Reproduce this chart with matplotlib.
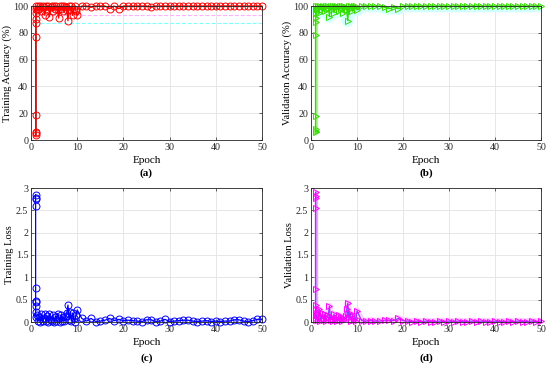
import numpy as np
import matplotlib.pyplot as plt

# ---- data ----
# first epoch: several iterations stacked at epoch 1
ep_first = [1, 1, 1, 1, 1, 1, 1, 1, 1, 1]
# epochs 1-10: several iterations per epoch
ep_fine = [1.25, 1.5, 1.75, 2, 2.25, 2.5, 2.75, 3, 3.25, 3.5, 3.75, 4,
           4.25, 4.5, 4.75, 5, 5.25, 5.5, 5.75, 6, 6.25, 6.5, 6.75, 7,
           7.25, 7.5, 7.75, 8, 8.25, 8.5, 8.75, 9, 9.25, 9.5, 9.75, 10]
# epochs 11-50: one point per epoch
ep_coarse = [11, 12, 13, 14, 15, 16, 17, 18, 19, 20,
             21, 22, 23, 24, 25, 26, 27, 28, 29, 30,
             31, 32, 33, 34, 35, 36, 37, 38, 39, 40,
             41, 42, 43, 44, 45, 46, 47, 48, 49, 50]

train_acc_first = [4, 5, 6, 19, 77, 87, 90, 95, 98, 100]
train_acc_fine = [97, 100, 98, 100, 96, 100, 99, 93, 100, 97, 100, 92,
                  99, 100, 96, 100, 98, 100, 97, 91, 100, 98, 100, 96,
                  100, 99, 97, 89, 100, 97, 100, 93, 98, 100, 96, 93]
train_acc_coarse = [100, 100, 99, 100, 100, 100, 98, 100, 98, 100,
                    100, 100, 100, 100, 100, 99, 100, 100, 100, 100,
                    100, 100, 100, 100, 100, 100, 100, 100, 100, 100,
                    100, 100, 100, 100, 100, 100, 100, 100, 100, 100]

val_acc_first = [6, 7, 8, 18, 78, 88, 91, 95, 98, 100]
val_acc_fine = [98, 100, 95, 100, 97, 100, 99, 96, 100, 98, 100, 92,
                100, 97, 100, 95, 100, 99, 100, 96, 100, 98, 100, 95,
                100, 99, 97, 89, 100, 98, 100, 96, 100, 99, 100, 97]
val_acc_coarse = [100, 100, 100, 100, 100, 99, 98, 99, 98, 100,
                  100, 100, 100, 100, 100, 100, 100, 100, 100, 100,
                  100, 100, 100, 100, 100, 100, 100, 100, 100, 100,
                  100, 100, 100, 100, 100, 100, 100, 100, 100, 100]

train_loss_first = [2.85, 2.78, 2.75, 2.6, 0.76, 0.47, 0.45, 0.35, 0.22, 0.12]
train_loss_fine = [0.15, 0.02, 0.12, 0.01, 0.18, 0.03, 0.10, 0.17, 0.02, 0.14,
                   0.01, 0.18, 0.05, 0.02, 0.16, 0.01, 0.12, 0.03, 0.19, 0.08,
                   0.01, 0.15, 0.02, 0.11, 0.03, 0.14, 0.20, 0.38, 0.05, 0.22,
                   0.02, 0.20, 0.08, 0.01, 0.16, 0.27]
train_loss_coarse = [0.08, 0.02, 0.08, 0.01, 0.02, 0.04, 0.08, 0.03, 0.06, 0.03,
                     0.04, 0.03, 0.02, 0.01, 0.05, 0.05, 0.01, 0.02, 0.06, 0.01,
                     0.02, 0.03, 0.04, 0.04, 0.02, 0.01, 0.02, 0.03, 0.01, 0.02,
                     0.01, 0.02, 0.02, 0.05, 0.05, 0.02, 0.01, 0.03, 0.06, 0.06]

val_loss_first = [2.9, 2.82, 2.78, 2.55, 0.73, 0.38, 0.30, 0.20, 0.10, 0.05]
val_loss_fine = [0.15, 0.05, 0.28, 0.03, 0.12, 0.20, 0.04, 0.18, 0.02, 0.10,
                 0.15, 0.35, 0.05, 0.12, 0.03, 0.18, 0.06, 0.10, 0.02, 0.15,
                 0.05, 0.12, 0.03, 0.10, 0.06, 0.14, 0.28, 0.42, 0.08, 0.20,
                 0.03, 0.15, 0.05, 0.10, 0.02, 0.25]
val_loss_coarse = [0.03, 0.02, 0.03, 0.02, 0.02, 0.04, 0.04, 0.03, 0.08, 0.03,
                   0.02, 0.01, 0.02, 0.01, 0.02, 0.01, 0.01, 0.02, 0.01, 0.02,
                   0.01, 0.02, 0.01, 0.01, 0.02, 0.01, 0.02, 0.01, 0.01, 0.02,
                   0.01, 0.01, 0.02, 0.01, 0.02, 0.01, 0.01, 0.02, 0.01, 0.02]

# faint reference curves seen in panel (a)
ref_ep = [2, 50]
ref_pink = [93, 93]
ref_cyan = [87, 87]

epochs = np.array(ep_first + ep_fine + ep_coarse)
train_acc = np.array(train_acc_first + train_acc_fine + train_acc_coarse)
val_acc = np.array(val_acc_first + val_acc_fine + val_acc_coarse)
train_loss = np.array(train_loss_first + train_loss_fine + train_loss_coarse)
val_loss = np.array(val_loss_first + val_loss_fine + val_loss_coarse)
n0 = len(ep_first) - 1

plt.rcParams['font.family'] = ['Liberation Serif', 'DejaVu Serif']
fig = plt.figure(figsize=(5.5, 3.66), dpi=100)

W, H = 550.0, 366.0
boxes = {
    'a': (31, 6, 262, 140),
    'b': (311, 6, 541, 140),
    'c': (31, 188, 262, 322),
    'd': (311, 188, 541, 322),
}
MS = 5
LW = 0.9


def make_ax(key):
    x0, y0, x1, y1 = boxes[key]
    ax = fig.add_axes([x0 / W, 1 - y1 / H, (x1 - x0) / W, (y1 - y0) / H])
    ax.set_xlim(0, 50)
    ax.set_xticks([0, 10, 20, 30, 40, 50])
    ax.grid(True, color='#e3e3e3', linewidth=0.6)
    ax.set_axisbelow(True)
    ax.tick_params(direction='in', length=2.5, width=0.5, labelsize=7.2,
                   colors='#262626', top=True, right=True, pad=2)
    for s in ax.spines.values():
        s.set_linewidth(0.6)
        s.set_color('#262626')
    ax.set_xlabel('Epoch', fontsize=8, labelpad=3)
    ax.text(0.5, -0.245 if key in 'ab' else -0.27, '(%s)' % key,
            transform=ax.transAxes, ha='center', va='center',
            fontsize=8, fontweight='bold')
    return ax


# (a) training accuracy
ax = make_ax('a')
ax.plot(ref_ep, ref_pink, '--', color='#ffb3ff', lw=0.8)
ax.plot(ref_ep, ref_cyan, '--', color='#80ffff', lw=0.8)
ax.plot(epochs[:n0 + 1], train_acc[:n0 + 1], '-', color='#b04040', lw=1.4)
ax.plot(epochs, train_acc, '-o', color='#ff0000', lw=LW,
        markersize=MS, markerfacecolor='none', markeredgewidth=0.7,
        clip_on=False)
ax.set_ylim(0, 100)
ax.set_yticks([0, 20, 40, 60, 80, 100])
ax.set_ylabel('Training Accuracy (%)', fontsize=7.6, labelpad=1)

# (b) validation accuracy
ax = make_ax('b')
ax.plot(epochs[n0:], val_acc[n0:], '-', color='#d4ffff', lw=9,
        solid_capstyle='butt', zorder=1)
ax.plot(epochs[:n0 + 1], val_acc[:n0 + 1], '-', color='#b8f0a0', lw=2.5)
ax.plot(epochs, val_acc, '->', color='#33dd00', lw=LW,
        markersize=MS, markerfacecolor='none', markeredgewidth=0.7,
        clip_on=False)
ax.set_ylim(0, 100)
ax.set_yticks([0, 20, 40, 60, 80, 100])
ax.set_ylabel('Validation Accuracy (%)', fontsize=7.6, labelpad=1)

# (c) training loss
ax = make_ax('c')
ax.plot(epochs, train_loss, '-o', color='#0000ff', lw=LW,
        markersize=MS, markerfacecolor='none', markeredgewidth=0.7,
        clip_on=False)
ax.set_ylim(0, 3)
ax.set_yticks([0, 0.5, 1, 1.5, 2, 2.5, 3])
ax.set_yticklabels(['0', '0.5', '1', '1.5', '2', '2.5', '3'])
ax.set_ylabel('Training Loss', fontsize=7.6, labelpad=1)

# (d) validation loss
ax = make_ax('d')
ax.plot(epochs[n0:], val_loss[n0:], '-', color='#ffd0ff', lw=5,
        solid_capstyle='butt', zorder=1)
ax.plot(epochs[:n0 + 1], val_loss[:n0 + 1], '-', color='#e8a8ff', lw=2.5)
ax.plot(epochs, val_loss, '-', color='#8a3cff', lw=LW)
ax.plot(epochs, val_loss, '>', color='#ff00ff', markersize=MS,
        markerfacecolor='none', markeredgewidth=0.7, clip_on=False)
ax.set_ylim(0, 3)
ax.set_yticks([0, 0.5, 1, 1.5, 2, 2.5, 3])
ax.set_yticklabels(['0', '0.5', '1', '1.5', '2', '2.5', '3'])
ax.set_ylabel('Validation Loss', fontsize=7.6, labelpad=1)

fig.savefig('out.png', dpi=100)
plt.close(fig)
